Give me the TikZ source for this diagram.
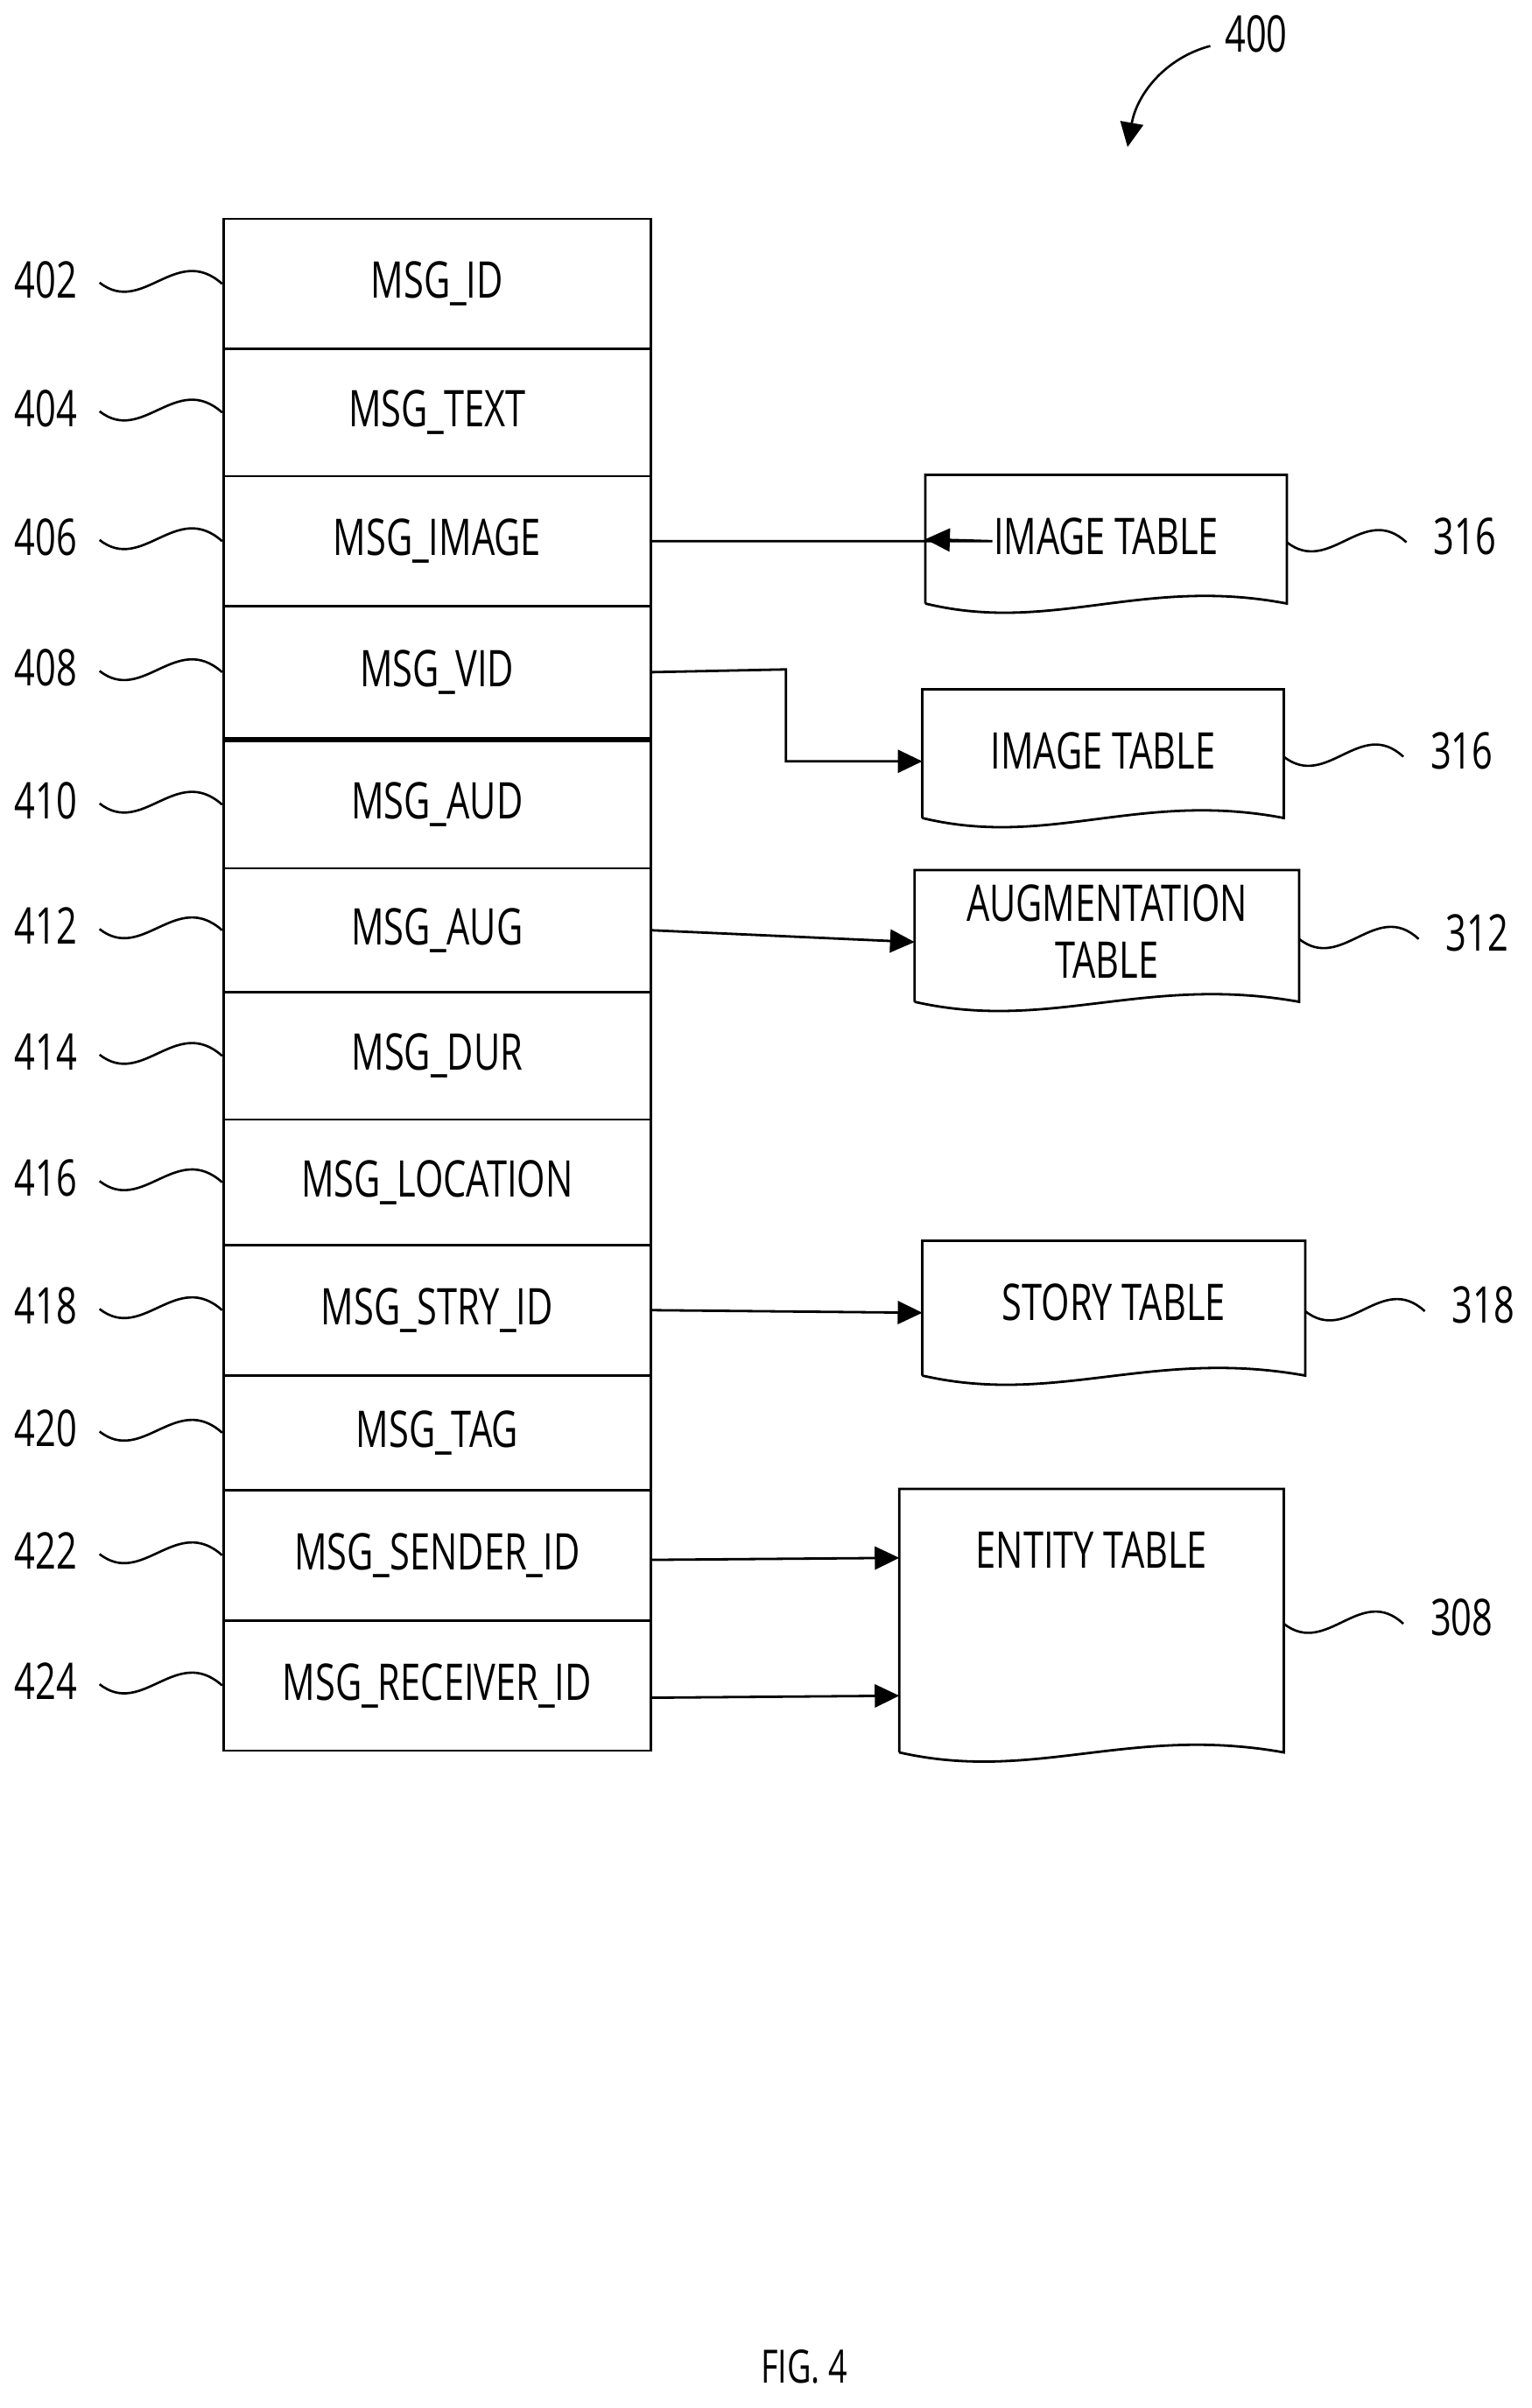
\documentclass[tikz,border=0pt]{standalone}
\usepackage{fontspec}
\setmainfont{Open Sans}[FakeStretch=0.72]
\usetikzlibrary{arrows.meta,calc}
\begin{document}
\begin{tikzpicture}[x=1pt,y=-1pt,line width=1.6pt,
  txt/.style={font=\fontsize{33}{37}\selectfont,inner sep=0,align=center},
  row/.style={draw,minimum width=279pt,minimum height=#1,inner sep=0,font=\fontsize{33}{37}\selectfont,anchor=north west},
  arr/.style={-{Triangle[length=16pt,width=15pt]}},
  sq/.style={line width=1.5pt}]
\useasboundingbox (0,0) rectangle (1000,1572);
% rows
\foreach \t/\b/\n/\txt/\nm in {142/227/402/MSG\_ID/a,227/310/404/MSG\_TEXT/b,310/395/406/MSG\_IMAGE/c,395/481/408/MSG\_VID/d,483/566/410/MSG\_AUD/e,566/647/412/MSG\_AUG/f,647/730/414/MSG\_DUR/g,730/812/416/MSG\_LOCATION/h,812/897/418/MSG\_STRY\_ID/i,897/972/420/MSG\_TAG/j,972/1057/422/MSG\_SENDER\_ID/k,1057/1142/424/MSG\_RECEIVER\_ID/l}{
  \pgfmathsetmacro\h{\b-\t}
  \node[row=\h pt] (\nm) at (145,\t) {\txt};
  \node[txt] (n\nm) at (30,{(\t+\b)/2-2}) {\n};
  \coordinate (s\nm) at (65,{(\t+\b)/2});
  \draw[sq] (s\nm) .. controls ($(s\nm)+(28,22)$) and ($(s\nm)+(50,-26)$) .. (\nm.west);
}
% document shapes: name/left/top/right/bottom/text/ref/refy
\foreach \nm/\L/\T/\R/\B/\txt/\rf in {p/604/310/840/398/IMAGE TABLE/316,q/602/450/838/538/IMAGE TABLE/316,r/597/568/848/658/AUGMENTATION\\TABLE/312,s/602/810/852/902/STORY TABLE/318,t/587/972/838/1148/ENTITY TABLE/308}{
  \coordinate (\nm tl) at (\L,\T);
  \coordinate (\nm br) at (\R,\B);
  \draw (\L,\B-4) -- (\nm tl) -- (\R,\T) -- (\R,\B-4)
     .. controls ({\L+0.6*(\R-\L)},\B-22) and ({\L+0.35*(\R-\L)},\B+16) .. (\L,\B-4);
  \node[txt] (\nm) at ({(\L+\R)/2},{\T+40}) {\txt};
  \coordinate (\nm e) at (\R,{\T+(\B-\T)/2});
  \node[txt,anchor=west] (\nm ref) at ({\R+95},{\T+(\B-\T)/2-4}) {\rf};
  \draw[sq] (\nm e) .. controls ($(\nm e)+(28,22)$) and ($(\nm e)+(50,-26)$) .. ($(\nm e)+(78,0)$);
}
\node[txt] at (\pgfkeysvalueof{/pgf/minimum width},0) {};
% connectors
\draw[arr] (c.east) -- (c.east -| p.west) ++(0,0) -- (604,352);
\draw[arr] (d.east) -- (513,437) -- (513,497) -- (602,497);
\draw[arr] (f.east) -- (597,615);
\draw[arr] (i.east) -- (602,857);
\draw[arr] (k.east) ++(0,3) -- (587,1017);
\draw[arr] (l.east) ++(0,8) -- (587,1107);
% 400
\node[txt] (n400) at (820,22) {400};
\coordinate (c400) at (790,30);
\draw[arr,line width=1.5pt] (c400) .. controls (760,38) and (742,62) .. (736,96);
\node[txt,font=\fontsize{30}{34}\selectfont] (fig) at (525,1545) {FIG. 4};
\end{tikzpicture}
\end{document}
